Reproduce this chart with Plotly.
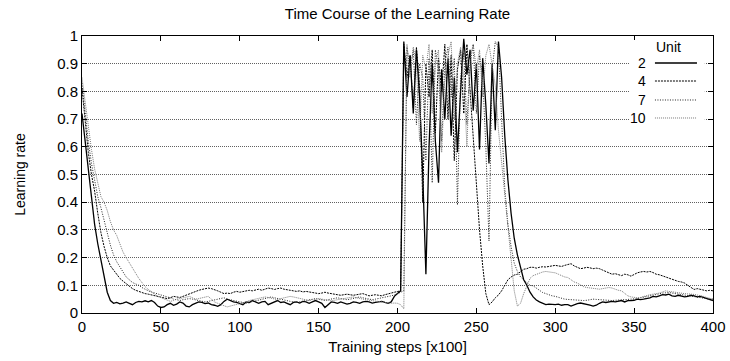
import plotly.graph_objects as go

# Training steps [x100]
steps = list(range(0, 401, 2))

units = ["2", "4", "7", "10"]

u2 = [
    0.72, 0.62, 0.52, 0.42, 0.32, 0.25, 0.19, 0.13, 0.075, 0.045,
    0.035, 0.038, 0.033, 0.036, 0.040, 0.035, 0.030, 0.038, 0.042, 0.040,
    0.044, 0.040, 0.045, 0.038, 0.025, 0.020, 0.022, 0.030, 0.035, 0.028,
    0.032, 0.040, 0.036, 0.025, 0.022, 0.030, 0.035, 0.040, 0.038, 0.034,
    0.036, 0.030, 0.028, 0.024, 0.030, 0.042, 0.050, 0.045, 0.040, 0.038,
    0.035, 0.030, 0.040, 0.038, 0.045, 0.040, 0.035, 0.040, 0.042, 0.030,
    0.035, 0.040, 0.045, 0.038, 0.040, 0.035, 0.030, 0.038, 0.040, 0.036,
    0.042, 0.040, 0.035, 0.040, 0.045, 0.040, 0.035, 0.020, 0.030, 0.040,
    0.038, 0.035, 0.040, 0.036, 0.032, 0.035, 0.040, 0.038, 0.035, 0.040,
    0.042, 0.040, 0.036, 0.038, 0.040, 0.042, 0.038, 0.035, 0.040, 0.060,
    0.070, 0.080, 0.98, 0.78, 0.93, 0.72, 0.95, 0.78, 0.50, 0.14,
    0.60, 0.90, 0.62, 0.47, 0.88, 0.70, 0.92, 0.64, 0.85, 0.58,
    0.80, 0.99, 0.86, 0.95, 0.73, 0.90, 0.59, 0.92, 0.75, 0.54,
    0.90, 0.66, 0.98, 0.85, 0.64, 0.48, 0.36, 0.27, 0.21, 0.16,
    0.12, 0.10, 0.075, 0.058, 0.047, 0.040, 0.034, 0.030, 0.032, 0.030,
    0.030, 0.032, 0.028, 0.030, 0.030, 0.025, 0.030, 0.034, 0.036, 0.034,
    0.030, 0.028, 0.025, 0.028, 0.035, 0.040, 0.038, 0.040, 0.042, 0.040,
    0.042, 0.045, 0.040, 0.045, 0.045, 0.046, 0.050, 0.048, 0.050, 0.052,
    0.055, 0.060, 0.058, 0.062, 0.066, 0.065, 0.068, 0.062, 0.060, 0.064,
    0.062, 0.058, 0.060, 0.064, 0.062, 0.058, 0.060, 0.056, 0.052, 0.048,
    0.045,
]

u4 = [
    0.81, 0.68, 0.58, 0.50, 0.44, 0.36, 0.29, 0.24, 0.20, 0.17,
    0.155, 0.14, 0.125, 0.115, 0.105, 0.095, 0.088, 0.082, 0.078, 0.072,
    0.070, 0.068, 0.065, 0.062, 0.060, 0.058, 0.055, 0.052, 0.055, 0.060,
    0.058, 0.056, 0.060, 0.065, 0.070, 0.075, 0.078, 0.082, 0.085, 0.088,
    0.090, 0.088, 0.085, 0.080, 0.075, 0.070, 0.072, 0.070, 0.075, 0.078,
    0.075, 0.078, 0.080, 0.082, 0.080, 0.084, 0.086, 0.082, 0.085, 0.090,
    0.088, 0.085, 0.088, 0.090, 0.086, 0.085, 0.082, 0.080, 0.078, 0.080,
    0.076, 0.078, 0.075, 0.074, 0.072, 0.070, 0.072, 0.075, 0.072, 0.070,
    0.068, 0.066, 0.064, 0.066, 0.068, 0.066, 0.064, 0.066, 0.068, 0.070,
    0.066, 0.062, 0.064, 0.066, 0.064, 0.062, 0.066, 0.070, 0.072, 0.075,
    0.078, 0.080, 0.97, 0.85, 0.93, 0.74, 0.96, 0.82, 0.40, 0.90,
    0.78, 0.95, 0.65, 0.92, 0.80, 0.97, 0.70, 0.93, 0.55, 0.88,
    0.95, 0.72, 0.97, 0.80, 0.64, 0.46, 0.30, 0.17, 0.07, 0.03,
    0.04, 0.055, 0.065, 0.08, 0.10, 0.12, 0.13, 0.137, 0.14, 0.15,
    0.158, 0.160, 0.165, 0.165, 0.162, 0.165, 0.167, 0.166, 0.168, 0.170,
    0.172, 0.170, 0.168, 0.172, 0.176, 0.178, 0.170, 0.165, 0.160, 0.162,
    0.165, 0.163, 0.160, 0.162, 0.160, 0.155, 0.150, 0.145, 0.140, 0.142,
    0.138, 0.135, 0.140, 0.138, 0.133, 0.140, 0.145, 0.148, 0.150, 0.148,
    0.150, 0.146, 0.140, 0.138, 0.134, 0.130, 0.125, 0.120, 0.117, 0.114,
    0.112, 0.108, 0.100, 0.092, 0.085, 0.088, 0.085, 0.082, 0.080, 0.082,
    0.080,
]

u7 = [
    0.83, 0.72, 0.62, 0.54, 0.48, 0.42, 0.38, 0.33, 0.29, 0.245,
    0.21, 0.185, 0.165, 0.15, 0.13, 0.12, 0.11, 0.105, 0.10, 0.092,
    0.085, 0.080, 0.076, 0.072, 0.068, 0.065, 0.060, 0.058, 0.055, 0.050,
    0.048, 0.045, 0.048, 0.050, 0.052, 0.050, 0.048, 0.045, 0.042, 0.040,
    0.042, 0.045, 0.048, 0.050, 0.052, 0.055, 0.050, 0.048, 0.045, 0.042,
    0.040, 0.038, 0.035, 0.038, 0.040, 0.042, 0.045, 0.050, 0.052, 0.055,
    0.058, 0.055, 0.052, 0.050, 0.048, 0.045, 0.042, 0.040, 0.038, 0.040,
    0.042, 0.045, 0.048, 0.050, 0.052, 0.050, 0.048, 0.045, 0.048, 0.050,
    0.052, 0.055, 0.052, 0.050, 0.048, 0.050, 0.052, 0.055, 0.058, 0.055,
    0.052, 0.050, 0.048, 0.050, 0.052, 0.055, 0.058, 0.060, 0.062, 0.065,
    0.070, 0.075, 0.080, 0.96, 0.88, 0.95, 0.68, 0.90, 0.85, 0.55,
    0.92, 0.47, 0.95, 0.88, 0.62, 0.90, 0.96, 0.78, 0.92, 0.39,
    0.85, 0.94, 0.68, 0.90, 0.97, 0.72, 0.93, 0.85, 0.60, 0.26,
    0.88, 0.98, 0.96, 0.70, 0.45, 0.32, 0.24, 0.18, 0.15, 0.13,
    0.12, 0.11, 0.10, 0.098, 0.090, 0.082, 0.074, 0.070, 0.065, 0.062,
    0.060, 0.056, 0.052, 0.050, 0.049, 0.048, 0.047, 0.046, 0.046, 0.045,
    0.046, 0.048, 0.050, 0.049, 0.048, 0.049, 0.047, 0.046, 0.045, 0.046,
    0.046, 0.047, 0.048, 0.049, 0.050, 0.050, 0.052, 0.055, 0.058, 0.060,
    0.062, 0.064, 0.067, 0.070, 0.072, 0.073, 0.074, 0.072, 0.070, 0.068,
    0.067, 0.066, 0.064, 0.062, 0.060, 0.058, 0.056, 0.054, 0.052, 0.050,
    0.050,
]

u10 = [
    0.85, 0.76, 0.67, 0.59, 0.52, 0.47, 0.42, 0.40, 0.37, 0.33,
    0.30, 0.28, 0.25, 0.22, 0.20, 0.18, 0.165, 0.145, 0.125, 0.11,
    0.095, 0.085, 0.075, 0.068, 0.060, 0.055, 0.050, 0.045, 0.042, 0.045,
    0.050, 0.052, 0.055, 0.058, 0.060, 0.055, 0.050, 0.052, 0.055, 0.058,
    0.060, 0.050, 0.040, 0.035, 0.030, 0.025, 0.022, 0.025, 0.028, 0.030,
    0.032, 0.035, 0.040, 0.045, 0.048, 0.050, 0.052, 0.055, 0.058, 0.056,
    0.054, 0.050, 0.048, 0.052, 0.055, 0.058, 0.060, 0.058, 0.055, 0.052,
    0.050, 0.048, 0.045, 0.048, 0.050, 0.052, 0.050, 0.048, 0.046, 0.044,
    0.046, 0.048, 0.050, 0.052, 0.054, 0.056, 0.058, 0.055, 0.052, 0.050,
    0.048, 0.046, 0.045, 0.044, 0.042, 0.040, 0.038, 0.036, 0.035, 0.036,
    0.035, 0.030, 0.015, 0.97, 0.85, 0.96, 0.90, 0.62, 0.93, 0.88,
    0.97, 0.72, 0.90, 0.95, 0.58, 0.85, 0.93, 0.98, 0.70, 0.90,
    0.96, 0.85, 0.60, 0.92, 0.97, 0.88, 0.95, 0.78, 0.93, 0.97,
    0.90, 0.82, 0.66, 0.54, 0.42, 0.30, 0.18, 0.08, 0.025, 0.035,
    0.070, 0.100, 0.125, 0.135, 0.140, 0.145, 0.148, 0.150, 0.148, 0.146,
    0.145, 0.140, 0.135, 0.130, 0.128, 0.120, 0.112, 0.108, 0.100, 0.095,
    0.092, 0.090, 0.088, 0.087, 0.086, 0.088, 0.090, 0.092, 0.090, 0.085,
    0.082, 0.080, 0.070, 0.062, 0.058, 0.056, 0.055, 0.056, 0.060, 0.064,
    0.066, 0.068, 0.069, 0.072, 0.076, 0.080, 0.078, 0.076, 0.074, 0.074,
    0.072, 0.070, 0.069, 0.069, 0.067, 0.065, 0.063, 0.060, 0.056, 0.052,
    0.050,
]

series = [u2, u4, u7, u10]
styles = [
    dict(color="#000000", width=1.3, dash="solid"),
    dict(color="#000000", width=1.0, dash="2px,1px"),
    dict(color="#202020", width=1.0, dash="1px,1.5px"),
    dict(color="#7a7a7a", width=1.0, dash="1px,1px"),
]

FONT = "Liberation Sans, Arial, Helvetica, sans-serif"

fig = go.Figure()
for name, vals, st in zip(units, series, styles):
    fig.add_trace(go.Scatter(x=steps, y=vals, mode="lines", name=name,
                             line=st, showlegend=False))

# manual gnuplot-style key (label left of sample)
key_y = [0.9025, 0.8375, 0.769, 0.704]
shapes = [dict(type="rect", xref="paper", yref="paper", x0=0.868, x1=0.987,
               y0=0.671, y1=0.986, fillcolor="white", line=dict(width=0),
               layer="above")]
annotations = [dict(text="Unit", xref="paper", yref="paper", x=0.9287, y=0.960,
                    showarrow=False, font=dict(size=14, color="black", family=FONT),
                    xanchor="center", yanchor="middle")]
for name, ky, st in zip(units, key_y, styles):
    annotations.append(dict(text=name, xref="paper", yref="paper", x=0.897, y=ky,
                            showarrow=False, xanchor="right", yanchor="middle",
                            font=dict(size=14, color="black", family=FONT)))
    shapes.append(dict(type="line", xref="paper", yref="paper", x0=0.908, x1=0.9746,
                       y0=ky, y1=ky, line=st, layer="above"))

fig.update_layout(
    width=730, height=361,
    margin=dict(l=82, r=17, t=36, b=48),
    paper_bgcolor="white", plot_bgcolor="white",
    font=dict(family=FONT, size=12, color="black"),
    title=dict(text="Time Course of the Learning Rate", x=0.5445, xanchor="center",
               y=1 - 14 / 361, yanchor="middle", font=dict(size=15), automargin=False),
    shapes=shapes, annotations=annotations,
    showlegend=False,
)
fig.update_xaxes(range=[0, 400], tickvals=list(range(0, 401, 50)),
                 showgrid=False, zeroline=False, showline=True, linecolor="black",
                 linewidth=1, mirror="ticks", ticks="inside", ticklen=5,
                 tickcolor="black", tickfont=dict(size=15), automargin=False,
                 title=dict(text="Training steps [x100]", font=dict(size=15), standoff=7))
fig.update_yaxes(range=[0, 1], tickvals=[i / 10 for i in range(11)],
                 ticktext=["0", "0.1", "0.2", "0.3", "0.4", "0.5", "0.6", "0.7", "0.8", "0.9", "1"],
                 showgrid=True, gridcolor="#606060", griddash="1px,1px", gridwidth=1,
                 zeroline=False, showline=True, linecolor="black", linewidth=1,
                 mirror="ticks", ticks="inside", ticklen=5, tickcolor="black",
                 tickfont=dict(size=15), automargin=False,
                 title=dict(text="Learning rate", font=dict(size=14), standoff=28))

fig.write_html("out.html", config={"displayModeBar": False},
               post_script="document.body.style.margin='0';")
